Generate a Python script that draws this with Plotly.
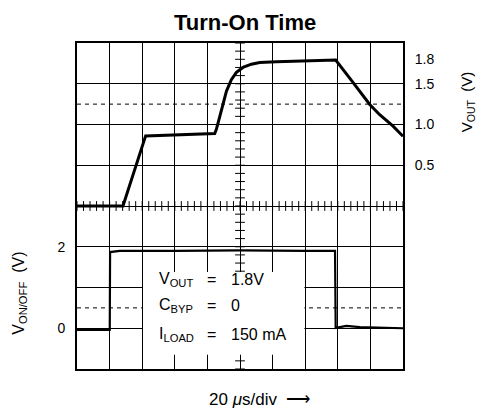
import plotly.graph_objects as go

# ---- data (time in microseconds, 20 us/div) ----
t_out = [0, 28.2, 42.1, 50, 61, 75, 84.5, 85.5, 87.5, 89.6, 91.7, 94.7, 97.8, 101.8,
         107, 112.1, 122.3, 140, 158.7, 167.3, 173.5, 179.6, 185.7, 193.9, 200]
v_out = [0, 0, 0.86, 0.865, 0.87, 0.88, 0.89, 0.94, 1.08, 1.25, 1.41, 1.55, 1.64, 1.70,
         1.74, 1.76, 1.77, 1.78, 1.79, 1.57, 1.41, 1.245, 1.12, 0.98, 0.855]

t_onoff = [0, 20.1, 20.3, 26.3, 60, 100, 140, 158.3, 158.7, 165.3, 173.5, 200]
v_onoff = [-0.04, -0.04, 1.87, 1.9, 1.9, 1.91, 1.9, 1.9, 0.01, 0.06, 0.03, 0.0]

vout_ticks = [0.5, 1.0, 1.5, 1.8]
vout_ticktext = ["0.5", "1.0", "1.5", "1.8"]
vonoff_ticks = [0, 2]
vonoff_ticktext = ["0", "2"]

vout_threshold = 1.25
vonoff_threshold = 0.5

cond_names = ["V<sub>OUT</sub>", "C<sub>BYP</sub>", "I<sub>LOAD</sub>"]
cond_values = ["1.8V", "0", "150\u00a0mA"]

# ---- scope geometry ----
T_DIV = 20          # us per division
N_XDIV = 10
VOUT_DIV = 0.5      # V per division (top trace)
VONOFF_DIV = 1.0    # V per division (bottom trace)
N_YDIV = 8

FONT = "Liberation Sans, Arial, Helvetica, sans-serif"
NB = "\u00a0"

fig = go.Figure()

# minor ticks on centre lines
minor_x = [i * T_DIV / 5 for i in range(N_XDIV * 5 + 1)]
minor_y = [-N_YDIV / 2 * VOUT_DIV + i * VOUT_DIV / 5 for i in range(N_YDIV * 5 + 1)]
fig.add_trace(go.Scatter(x=minor_x, y=[0] * len(minor_x), mode="markers",
                         marker=dict(symbol="line-ns", size=7, line=dict(width=1, color="black")),
                         hoverinfo="skip", showlegend=False))
fig.add_trace(go.Scatter(x=[N_XDIV * T_DIV / 2] * len(minor_y), y=minor_y, mode="markers",
                         marker=dict(symbol="line-ew", size=7, line=dict(width=1, color="black")),
                         hoverinfo="skip", showlegend=False))

fig.add_trace(go.Scatter(x=t_out, y=v_out, mode="lines", yaxis="y",
                         line=dict(color="black", width=3), showlegend=False))
fig.add_trace(go.Scatter(x=t_onoff, y=v_onoff, mode="lines", yaxis="y2",
                         line=dict(color="black", width=2.2), showlegend=False))

# threshold dashed lines
fig.add_shape(type="line", xref="paper", yref="y", x0=0, x1=1, y0=vout_threshold, y1=vout_threshold,
              line=dict(color="black", width=1, dash="4px,4px"), layer="between")
fig.add_shape(type="line", xref="paper", yref="y2", x0=0, x1=1, y0=vonoff_threshold, y1=vonoff_threshold,
              line=dict(color="black", width=1, dash="4px,4px"), layer="between")

# white box for conditions
fig.add_shape(type="rect", xref="x", yref="y2", x0=2 * T_DIV + 0.5, x1=7 * T_DIV - 0.5,
              y0=-0.65, y1=1.38, fillcolor="white", line=dict(width=0), layer="above")

line_y = [1.19, 0.55, -0.15]
for name, val, yy in zip(cond_names, cond_values, line_y):
    fig.add_annotation(x=48.9, y=yy, xref="x", yref="y2", text=name, showarrow=False,
                       xanchor="left", yanchor="middle", font=dict(family=FONT, size=16, color="black"))
    fig.add_annotation(x=82.6, y=yy, xref="x", yref="y2", text="=", showarrow=False,
                       xanchor="center", yanchor="middle", font=dict(family=FONT, size=16, color="black"))
    fig.add_annotation(x=93.1, y=yy, xref="x", yref="y2", text=val, showarrow=False,
                       xanchor="left", yanchor="middle", font=dict(family=FONT, size=16, color="black"))

# titles
fig.add_annotation(x=0.514, y=1.063, xref="paper", yref="paper", text="<b>Turn-On Time</b>",
                   xanchor="center", yanchor="middle",
                   showarrow=False, font=dict(family=FONT, size=22, color="black"))
fig.add_annotation(x=1.198, y=0.82, xref="paper", yref="paper", text="V<sub>OUT</sub>" + NB * 2 + "(V)",
                   xanchor="center", yanchor="middle",
                   textangle=-90, showarrow=False, font=dict(family=FONT, size=15, color="black"))
fig.add_annotation(x=-0.179, y=0.233, xref="paper", yref="paper", text="V<sub>ON/OFF</sub>" + NB * 2 + "(V)",
                   xanchor="center", yanchor="middle",
                   textangle=-90, showarrow=False, font=dict(family=FONT, size=16, color="black"))
fig.add_annotation(x=0.56, y=-0.095, xref="paper", yref="paper",
                   text="20" + NB + "<i>μ</i>s/div" + NB * 2 + "⟶",
                   xanchor="center", yanchor="middle",
                   showarrow=False, font=dict(family=FONT, size=17, color="black"))

fig.update_layout(
    width=481, height=415,
    margin=dict(l=77, r=78, t=43, b=46),
    paper_bgcolor="white", plot_bgcolor="white",
    font=dict(family=FONT, size=14, color="black"),
    xaxis=dict(range=[0, N_XDIV * T_DIV], dtick=T_DIV, tick0=0, showgrid=True, gridcolor="black",
               gridwidth=1.2, showticklabels=False, ticks="", zeroline=False,
               showline=True, mirror=True, linecolor="black", linewidth=2),
    yaxis=dict(range=[-N_YDIV / 2 * VOUT_DIV, N_YDIV / 2 * VOUT_DIV], dtick=VOUT_DIV, tick0=0,
               showgrid=True, gridcolor="black", gridwidth=1.2, showticklabels=False, ticks="",
               zeroline=False, showline=True, mirror=True, linecolor="black", linewidth=2),
    yaxis2=dict(overlaying="y", side="left", range=[-1 * VONOFF_DIV, (N_YDIV - 1) * VONOFF_DIV],
                tickmode="array", tickvals=vonoff_ticks, ticktext=vonoff_ticktext,
                showgrid=False, zeroline=False, showline=False, ticks="outside", ticklen=8,
                tickcolor="rgba(0,0,0,0)", tickfont=dict(family=FONT, size=14, color="black")),
    yaxis3=dict(overlaying="y", side="right", range=[-N_YDIV / 2 * VOUT_DIV, N_YDIV / 2 * VOUT_DIV],
                tickmode="array", tickvals=vout_ticks, ticktext=vout_ticktext,
                showgrid=False, zeroline=False, showline=False, ticks="outside", ticklen=8,
                tickcolor="rgba(0,0,0,0)", tickfont=dict(family=FONT, size=14, color="black")),
)
# invisible trace to activate yaxis3
fig.add_trace(go.Scatter(x=[None], y=[None], yaxis="y3", showlegend=False, hoverinfo="skip"))

fig.write_html("out.html", config={"displayModeBar": False},
               post_script="document.body.style.margin='0px';")
